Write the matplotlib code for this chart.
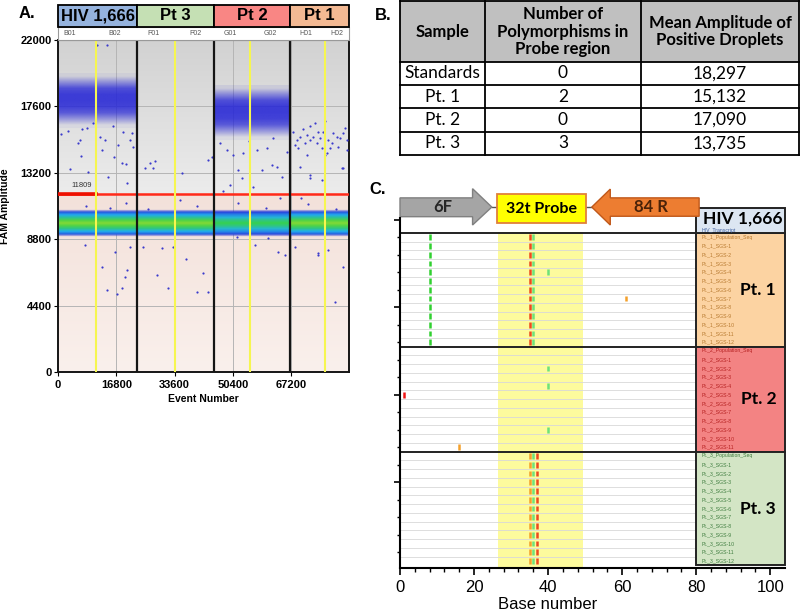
import numpy as np
import matplotlib
matplotlib.use("Agg")
import matplotlib.pyplot as plt
from matplotlib.patches import Rectangle, Polygon
from matplotlib.colors import LinearSegmentedColormap, to_rgba

W, H = 800, 614          # output size in pixels (dpi 100)

# ---- panel A: ddPCR droplet amplitudes --------------------------------
SAMPLES = ["HIV 1,666", "Pt 3", "Pt 2", "Pt 1"]
SAMPLE_COLORS = ["#95b3de", "#c5e0b4", "#f98684", "#f3b993"]
WELLS = ["B01", "B02", "F01", "F02", "G01", "G02", "H01", "H02"]
WELL_LABEL_X = [3460, 16430, 27380, 39480, 49570, 61100, 71470, 80400]
SAMPLE_EDGES = [0, 22770, 44960, 66860, 83850]
WELL_SPLITS = [10950, 33700, 55330, 76940]
THRESHOLD = 11809
A_XTICKS = [0, 16800, 33600, 50400, 67200]
A_YTICKS = [0, 4400, 8800, 13200, 17600, 22000]

# droplet density profiles across amplitude (evenly spaced amplitudes)
NEG_AMP = [8950, 9130, 9310, 9490, 9670, 9850, 10030, 10210, 10390, 10570, 10750]
NEG_DENSITY = [0.0, 0.30, 0.46, 0.60, 0.72, 0.80, 0.72, 0.58, 0.44, 0.28, 0.0]
NEG_PEAK = [1.0, 1.0, 0.85, 1.0]            # relative density per sample
POS_AMP = [[16400, 16800, 17200, 17600, 18000, 18400, 18800, 19200, 19600],
           None,
           [15600, 16000, 16400, 16800, 17200, 17600, 18000, 18400, 18800],
           None]
POS_DENSITY = [[0.05, 0.4, 0.72, 0.85, 0.88, 0.88, 0.78, 0.42, 0.05],
               None,
               [0.05, 0.4, 0.72, 0.85, 0.88, 0.88, 0.78, 0.45, 0.08],
               None]

# scattered "rain" droplets (event number, amplitude)
RAIN_X = [6900, 6340, 5760, 8360, 6630, 3460, 8650, 12100, 13540, 12680,
          14410, 16140, 17290, 18440, 19600, 20750, 21330, 21610, 18730, 14120,
          11240, 15850, 10090, 14120, 17000, 18440, 20020, 19310, 12680, 16430,
          20750, 7780, 8000, 15000, 19500, 3000, 1000, 20000,
          25070, 26510, 27950, 27380, 35730, 43230, 44380, 35160, 28530, 31700,
          33140, 41790, 43230, 40060, 24500, 40000, 26000, 30000, 37000,
          46690, 48700, 50440, 53320, 57350, 60230, 61670, 63110, 64550, 53030,
          49570, 56200, 58790, 51880, 65990, 56780, 60520, 63400, 65420, 51590,
          52000, 60000, 64000, 47500, 55000, 62000,
          67730, 68880, 69750, 70610, 71760, 72620, 73490, 72620, 74640, 75500,
          76370, 77810, 78960, 80400, 81270, 82130, 83280, 80690, 69170, 71760,
          77520, 76080, 74060, 76950, 69750, 72620, 76950, 81850, 83280, 68300,
          79250, 74930, 71180, 78390, 82710, 82130, 76080, 72620, 79830, 74930,
          68300, 74930, 77810, 82130, 72000, 80000, 70000]
RAIN_Y = [16070, 15400, 15200, 16200, 14340, 13480, 13280, 15540, 15400, 14740,
          12950, 14270, 15060, 13870, 13800, 15400, 15860, 14930, 15930, 21700,
          21700, 16270, 16530, 5440, 5180, 5570, 6770, 6300, 6970, 7960,
          8300, 8430, 11000, 10900, 11200, 16000, 15800, 12500,
          13540, 13870, 14000, 13540, 13210, 14070, 14270, 11410, 6440, 5570,
          8300, 6570, 5310, 5310, 8300, 11000, 10800, 8200, 7500,
          15200, 14740, 14400, 14540, 14740, 14870, 13740, 13600, 12940, 12870,
          12410, 12280, 13400, 13400, 14600, 8430, 8890, 7960, 7760, 8960,
          11200, 10900, 11500, 12000, 15300, 15500,
          15930, 15400, 15600, 16070, 15730, 15400, 15600, 16270, 15200, 15530,
          15930, 15400, 15200, 15600, 15530, 15860, 15400, 14930, 14870, 14400,
          14540, 14870, 16530, 16600, 13600, 13070, 14400, 13540, 14740, 15060,
          15860, 15930, 15200, 14870, 16200, 13540, 12740, 12870, 4650, 7760,
          8300, 7900, 8100, 6970, 11100, 10800, 11500]

# ---- panel B: table ----------------------------------------------------
TABLE_HEADER = ["Sample", "Number of\nPolymorphisms in\nProbe region",
                "Mean Amplitude of\nPositive Droplets"]
TABLE_SAMPLE = ["Standards", "Pt. 1", "Pt. 2", "Pt. 3"]
TABLE_NPOLY = ["0", "2", "0", "3"]
TABLE_MEAN = ["18,297", "15,132", "17,090", "13,735"]

# ---- panel C: highlighter plot ----------------------------------------
GROUPS = ["Pt. 1", "Pt. 2", "Pt. 3"]
GROUP_N_SGS = [12, 11, 12]
GROUP_FILLS = ["#fcd3a2", "#f38383", "#d3e5c5"]
GROUP_TEXT = ["#b87a30", "#b52020", "#3f7d3f"]
NT_COLORS = {"A": "#30d030", "a": "#6ee27a", "G": "#f4a02a", "T": "#ee4a1e",
             "R": "#ee1515"}
# mutations found in every sequence of a group: (base, nucleotide)
SHARED_MARKS = [[(8, "A"), (35, "T"), (36, "a")], [], [(35, "G"), (36, "a"), (37, "T")]]
# single-sequence mutations: (row in group, base, nucleotide); row 0 = Population_Seq
EXTRA_MARKS = [[(4, 40, "a"), (7, 61, "G")],
               [(2, 40, "a"), (4, 40, "a"), (5, 1, "R"), (9, 40, "a"), (11, 16, "G")],
               []]
PROBE = (26.5, 49.5)
PRIMER_F = (0, 19.6, 24.8)     # body start, head start, tip
PROBE_BOX = (26.1, 50.3)
PRIMER_R = (80.8, 56.8, 51.8)


def px_axes(fig, x0, y0, x1, y1):
    return fig.add_axes([x0 / W, 1 - y1 / H, (x1 - x0) / W, (y1 - y0) / H])


def density_image(ax, x0, x1, amps, rgba_rows):
    step = amps[1] - amps[0]
    ax.imshow(np.array(rgba_rows)[:, None, :], origin="lower", aspect="auto",
              extent=[x0, x1, amps[0] - step / 2, amps[-1] + step / 2],
              interpolation="bilinear", zorder=2)


def main():
    fig = plt.figure(figsize=(W / 100, H / 100), dpi=100)
    sans = "Liberation Sans"

    # ================= panel A ==========================================
    xmax = SAMPLE_EDGES[-1]
    ax = px_axes(fig, 58, 40, 349, 372)

    g = np.linspace(0, 1, 64)[:, None]
    cm_top = LinearSegmentedColormap.from_list("top", ["#ececec", "#d2d2d2"])
    cm_bot = LinearSegmentedColormap.from_list("bot", ["#faf0ec", "#f3e1da"])
    ax.imshow(g, cmap=cm_top, extent=[0, xmax, THRESHOLD, 22000], origin="lower",
              aspect="auto", zorder=0)
    ax.imshow(g, cmap=cm_bot, extent=[0, xmax, 0, THRESHOLD], origin="lower",
              aspect="auto", zorder=0)

    for v in A_YTICKS[1:-1]:
        ax.axhline(v, color="#b5b5b5", lw=0.7, zorder=1)
    for v in A_XTICKS[1:]:
        ax.axvline(v, color="#b5b5b5", lw=0.7, zorder=1)

    cm_neg = LinearSegmentedColormap.from_list(
        "neg", ["#2020d0", "#2a40dc", "#22b0ee", "#36d050", "#c8e020", "#f0c020"])
    for i in range(len(SAMPLES)):
        x0, x1 = SAMPLE_EDGES[i], SAMPLE_EDGES[i + 1]
        rows = []
        for d in NEG_DENSITY:
            c = list(cm_neg(d * NEG_PEAK[i] * 0.88))
            c[3] = min(1.0, d * 4.0)
            rows.append(c)
        density_image(ax, x0, x1, NEG_AMP, rows)
        if POS_AMP[i] is not None:
            base = to_rgba("#2626d6")
            rows = [(base[0], base[1], base[2], d) for d in POS_DENSITY[i]]
            density_image(ax, x0, x1, POS_AMP[i], rows)

    ax.scatter(RAIN_X, RAIN_Y, s=2.5, color="#3a3acc", lw=0, zorder=3)

    ax.axhline(THRESHOLD, color="#ff2a1a", lw=1.8, zorder=4)
    ax.plot([0, WELL_SPLITS[0]], [THRESHOLD, THRESHOLD], color="#ee1000", lw=2.6, zorder=4)
    ax.text(6900, 12350, str(THRESHOLD), fontsize=5.5, color="#333333",
            ha="center", va="center", family=sans, zorder=5)

    for v in WELL_SPLITS:
        ax.axvline(v, color="#f6f650", lw=1.5, zorder=4)
    for v in SAMPLE_EDGES[1:-1]:
        ax.axvline(v, color="#151515", lw=1.6, zorder=5)

    ax.set_xlim(0, xmax); ax.set_ylim(0, 22000)
    for side in ("left", "bottom", "right"):
        ax.spines[side].set_color("#151515"); ax.spines[side].set_linewidth(1.4)
    ax.spines["top"].set_color("#808080")
    ax.set_xticks(A_XTICKS); ax.set_yticks(A_YTICKS)
    ax.tick_params(length=3, width=0.8, pad=1.5, labelsize=8)
    for lab in ax.get_xticklabels() + ax.get_yticklabels():
        lab.set_fontweight("bold"); lab.set_family(sans)
    ax.tick_params(axis="x", pad=3)
    ax.set_ylabel("FAM Amplitude", fontsize=7.5, fontweight="bold", family=sans)
    ax.yaxis.set_label_coords(-0.165, 0.5)
    ax.set_xlabel("Event Number", fontsize=7.5, fontweight="bold", family=sans)
    ax.xaxis.set_label_coords(0.5, -0.065)

    # header row with sample names and well ids
    hx = px_axes(fig, 58, 5, 349, 40)
    hx.set_xlim(0, xmax); hx.set_ylim(0, 1); hx.axis("off")
    hx.add_patch(Rectangle((0, 0), xmax, 0.37, facecolor="white",
                           edgecolor="#999999", lw=0.8, clip_on=False))
    for i, (name, col) in enumerate(zip(SAMPLES, SAMPLE_COLORS)):
        x0, x1 = SAMPLE_EDGES[i], SAMPLE_EDGES[i + 1]
        hx.add_patch(Rectangle((x0, 0.37), x1 - x0, 0.63, facecolor=col,
                               edgecolor="black", lw=1.3, clip_on=False))
        hx.text((x0 + x1) / 2, 0.69, name, ha="center", va="center", fontsize=12,
                fontweight="bold", family=sans)
    for x, w in zip(WELL_LABEL_X, WELLS):
        hx.text(x, 0.18, w, ha="center", va="center", fontsize=5, color="#555555",
                family=sans)

    fig.text(27 / W, 1 - 13 / H, "A.", fontsize=12, fontweight="bold", family=sans,
             ha="center", va="center")

    # ================= panel B ==========================================
    tb = px_axes(fig, 400, 1, 799, 155)
    tb.set_xlim(400, 799); tb.set_ylim(155, 1); tb.axis("off")
    col_edges = [400, 485, 641, 799]
    row_edges = [1, 62, 85, 108, 132, 155]
    tb.add_patch(Rectangle((400, 1), 399, 61, facecolor="#c0c0c0", lw=0))
    for x in col_edges:
        tb.plot([x, x], [1, 155], color="black", lw=1.3, clip_on=False)
    for y in row_edges:
        tb.plot([400, 799], [y, y], color="black", lw=1.3, clip_on=False)
    for j, txt in enumerate(TABLE_HEADER):
        tb.text((col_edges[j] + col_edges[j + 1]) / 2, 31.5, txt, ha="center",
                va="center", fontsize=12, fontweight="bold", family="Lato",
                linespacing=1.1)
    for r, vals in enumerate(zip(TABLE_SAMPLE, TABLE_NPOLY, TABLE_MEAN)):
        yc = (row_edges[r + 1] + row_edges[r + 2]) / 2
        for j, txt in enumerate(vals):
            tb.text((col_edges[j] + col_edges[j + 1]) / 2, yc, txt, ha="center",
                    va="center", fontsize=12.5, family="Lato")
    fig.text(383 / W, 1 - 15 / H, "B.", fontsize=12, fontweight="bold", family=sans,
             ha="center", va="center")

    # ================= panel C ==========================================
    cx = px_axes(fig, 400, 218, 785, 568)
    cx.set_xlim(0, 104); cx.set_ylim(-0.3, 39.7)
    cx.add_patch(Rectangle((PROBE[0], -0.3), PROBE[1] - PROBE[0], 38.4,
                           facecolor="#fdfb9d", lw=0, zorder=0))

    top = 38
    for gi, name in enumerate(GROUPS):
        n = GROUP_N_SGS[gi] + 1
        bottom = top - n
        cx.hlines([bottom + k for k in range(1, n)], 0, 80, color="#d8d8d8",
                  lw=0.6, zorder=1)
        cx.add_patch(Rectangle((80, bottom), 24, n, facecolor=GROUP_FILLS[gi],
                               edgecolor="#222222", lw=1.4, clip_on=False, zorder=3))
        labels = [f"Pt._{gi + 1}_Population_Seq"] + \
                 [f"Pt._{gi + 1}_SGS-{k}" for k in range(1, n)]
        for k, lab in enumerate(labels):
            yc = top - 0.5 - k
            cx.text(81.5, yc, lab, fontsize=3.7, color=GROUP_TEXT[gi], va="center",
                    family=sans, zorder=4, clip_on=False)
            for base, nt in SHARED_MARKS[gi]:
                cx.vlines(base, yc - 0.32, yc + 0.32, color=NT_COLORS[nt], lw=1.8,
                          zorder=2)
        for k, base, nt in EXTRA_MARKS[gi]:
            yc = top - 0.5 - k
            cx.vlines(base, yc - 0.32, yc + 0.32, color=NT_COLORS[nt], lw=1.8, zorder=2)
        cx.text(96.8, (top + bottom) / 2, name, fontsize=12.5, fontweight="bold",
                family="Lato", ha="center", va="center", zorder=4, clip_on=False)
        cx.hlines(top, 0, 80, color="#222222", lw=1.4, zorder=3)
        top = bottom

    # reference header box
    cx.add_patch(Rectangle((80, 38), 24, 2.8, facecolor="#dce6f2", edgecolor="#222222",
                           lw=1.4, clip_on=False, zorder=3))
    cx.text(92.6, 39.65, "HIV 1,666", fontsize=12.5, fontweight="bold", family="Lato",
            ha="center", va="center", zorder=4, clip_on=False)
    cx.text(81.5, 38.3, "HIV_Transcript", fontsize=3.7, color="#4060a0",
            va="center", family=sans, zorder=4, clip_on=False)

    # primers and probe
    b0, h0, tip = PRIMER_F
    cx.add_patch(Polygon([(b0, 39.85), (h0, 39.85), (h0, 38.9), (tip, 40.95),
                          (h0, 43.05), (h0, 42.0), (b0, 42.0)], closed=True,
                         facecolor="#a5a5a5", edgecolor="#808080", lw=1,
                         clip_on=False, zorder=5))
    b0, h0, tip = PRIMER_R
    cx.add_patch(Polygon([(b0, 39.9), (h0, 39.9), (h0, 38.9), (tip, 40.95),
                          (h0, 43.0), (h0, 42.0), (b0, 42.0)], closed=True,
                         facecolor="#ed7d31", edgecolor="#c0581a", lw=1,
                         clip_on=False, zorder=5))
    cx.add_patch(Rectangle((PROBE_BOX[0], 39.1), PROBE_BOX[1] - PROBE_BOX[0], 3.3,
                           facecolor="#ffff00", edgecolor="#e0803a", lw=1.3,
                           clip_on=False, zorder=5))
    cx.plot([PRIMER_F[2], PROBE_BOX[0]], [40.95, 40.95], color="#555555", lw=1,
            clip_on=False, zorder=4)
    cx.plot([PROBE_BOX[1], PRIMER_R[2]], [40.95, 40.95], color="#555555", lw=1,
            clip_on=False, zorder=4)
    cx.text(11.5, 40.95, "6F", fontsize=12, fontweight="bold", family="Lato",
            ha="center", va="center", color="#262626", zorder=6, clip_on=False)
    cx.text(38.2, 40.75, "32t Probe", fontsize=11.5, fontweight="bold", family="Lato",
            ha="center", va="center", zorder=6, clip_on=False)
    cx.text(67.8, 40.95, "84 R", fontsize=12, fontweight="bold", family="Lato",
            ha="center", va="center", color="#4a2208", zorder=6, clip_on=False)

    for side in ("top", "right"):
        cx.spines[side].set_visible(False)
    for side in ("left", "bottom"):
        cx.spines[side].set_linewidth(1.5); cx.spines[side].set_zorder(6)
    cx.spines["bottom"].set_bounds(0, 104)
    cx.set_xticks([0, 20, 40, 60, 80, 100])
    cx.set_xticks(np.arange(0, 104, 4), minor=True)
    cx.set_yticks([9.5, 19.5, 29.5, 39.5])
    cx.set_yticks(np.arange(1.5, 39.7, 2), minor=True)
    cx.set_yticklabels([])
    cx.tick_params(axis="x", which="major", length=5, width=1.2, labelsize=12, pad=4)
    cx.tick_params(axis="x", which="minor", length=3, width=1.0)
    cx.tick_params(axis="y", which="major", length=4, width=1.2)
    cx.tick_params(axis="y", which="minor", length=2.5, width=1.0)
    for lab in cx.get_xticklabels():
        lab.set_family(sans)
    cx.set_xlabel("Base number", fontsize=12, family=sans)
    cx.xaxis.set_label_coords(40 / 104, -0.083)

    fig.text(378 / W, 1 - 190 / H, "C.", fontsize=12, fontweight="bold", family=sans,
             ha="center", va="center")

    fig.savefig("out.png", dpi=100)


if __name__ == "__main__":
    main()
